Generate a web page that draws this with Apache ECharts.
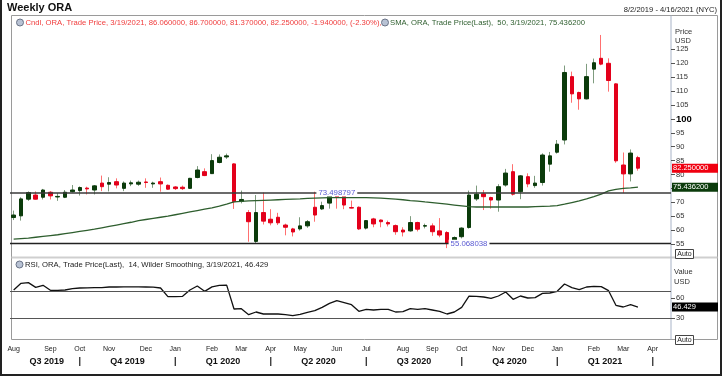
<!DOCTYPE html>
<html>
<head>
<meta charset="utf-8">
<title>Weekly ORA</title>
<script src="https://cdn.jsdelivr.net/npm/echarts@6/dist/echarts.min.js"></script>
<style>
  html, body { margin: 0; padding: 0; background: #fff; }
  #chart { width: 722px; height: 376px; }
</style>
</head>
<body>
<div id="chart"></div>
<script>
// weekly bars, 8/2/2019 .. 3/19/2021 (axis runs to 4/16/2021)
var startDate = '2019-08-02'
var weekCount = 90

var opens = [64.5,65.1,71.1,72.6,71.8,73.6,71.9,71.8,73.8,74.2,
  75.1,74.4,76.9,76.5,77.4,75.0,76.6,76.5,77.3,76.6,
  77.4,76.1,75.5,75.4,75.0,78.9,81.0,80.3,84.3,86.3,
  83.8,70.3,66.3,55.9,66.3,63.9,64.6,61.8,60.4,60.4,
  61.5,68.2,67.6,69.7,72.3,72.3,68.1,68.2,60.7,64.0,
  63.6,62.7,61.6,60.0,59.7,62.7,61.4,61.5,59.7,59.1,
  54.3,57.6,60.9,71.2,73.0,71.7,70.8,76.2,81.0,73.8,
  79.2,76.0,77.1,83.7,88.0,92.4,115.2,109.5,107.2,117.9,
  121.8,120.0,112.6,83.4,80.2,86.06]
var highs = [67.0,71.8,73.9,73.9,74.8,74.0,73.3,74.4,76.2,75.7,
  75.6,76.2,79.6,79.0,78.6,77.5,77.8,77.8,78.6,77.4,
  78.9,76.4,75.8,76.0,78.8,83.0,82.2,87.3,87.2,87.5,
  84.0,74.2,67.2,72.6,73.5,67.5,66.2,62.3,60.8,64.6,
  63.6,73.8,70.2,73.8,72.6,72.6,70.6,68.5,63.6,64.4,
  63.8,63.4,62.0,61.0,65.0,63.0,62.3,62.4,64.3,59.6,
  57.7,61.0,74.2,76.0,74.4,72.0,76.5,82.0,83.7,79.8,
  80.4,79.5,87.6,88.1,92.4,119.2,117.0,109.8,119.8,121.7,
  130.2,121.8,112.8,87.9,89.0,86.70]
var lows = [63.6,63.4,70.5,71.0,71.0,71.0,70.5,71.5,73.5,72.4,
  72.8,72.8,74.0,73.9,75.0,74.0,75.8,75.9,75.2,75.2,
  73.8,74.5,74.4,74.4,74.8,78.6,79.4,80.2,84.0,85.6,
  67.6,69.6,55.8,55.1,62.0,61.7,61.8,58.1,57.7,59.8,
  60.8,63.0,67.2,67.7,67.7,67.5,67.8,60.0,60.2,61.0,
  61.0,61.3,58.3,57.7,59.4,59.5,60.6,57.9,57.4,53.5,
  53.7,57.0,60.5,70.5,67.2,67.7,66.6,75.6,72.4,71.1,
  75.4,75.2,76.0,81.0,87.5,90.8,105.8,103.3,107.0,112.8,
  119.3,109.8,84.2,73.3,77.5,81.37]
var closes = [65.4,71.2,73.5,71.1,74.4,72.3,72.1,73.6,74.4,75.3,
  74.8,75.9,75.6,77.1,76.2,76.9,77.0,77.2,77.1,76.9,
  76.6,74.7,74.9,74.9,78.6,81.6,79.6,85.0,86.2,86.7,
  70.2,71.0,63.0,66.3,63.2,62.6,62.6,61.0,59.3,61.5,
  63.0,65.4,68.8,72.9,71.8,69.0,67.9,60.4,63.4,62.2,
  63.0,62.2,59.4,59.3,62.7,60.3,61.6,59.4,58.2,55.3,
  57.3,60.7,72.6,72.9,72.0,70.8,75.6,80.5,72.9,79.5,
  76.6,76.9,87.0,86.7,90.9,116.7,109.0,107.2,115.2,120.2,
  119.7,113.8,84.9,80.2,87.7,82.25]
var sma50 = [56.7,56.9,57.1,57.4,57.7,58.0,58.3,58.7,59.1,59.5,
  59.9,60.3,60.8,61.3,61.8,62.3,62.8,63.4,63.8,64.2,
  64.6,65.0,65.5,66.0,66.5,67.0,67.5,68.0,68.6,69.3,
  70.1,70.3,70.5,70.6,70.7,70.8,70.9,71.0,71.1,71.2,
  71.4,71.5,71.6,71.7,71.7,71.7,71.7,71.7,71.7,71.6,
  71.5,71.3,71.1,70.9,70.6,70.4,70.1,69.9,69.6,69.3,
  69.0,68.7,68.4,68.3,68.3,68.3,68.3,68.3,68.3,68.3,
  68.3,68.4,68.5,68.6,68.8,69.3,69.9,70.5,71.2,72.0,
  72.9,74.1,74.6,75.0,75.2,75.44]
var rsi14 = [72,82,83,76,79,71.5,71.5,72,74,75,
  75.2,75.7,75.7,76.5,76.5,76.7,76.7,76.7,76.5,76.2,
  75,62,62.2,62.5,72,78,70,76.7,79,79.3,
  43.5,44,35,39,36,36,36,35,33.7,35.5,
  38.5,41,46,52,56,53,50,40,43,42,
  43,43,39,39.5,44,43,44,42,40,36,
  39,46,62.7,62.5,61.5,59.5,63,69,58,63,
  60,60.5,67,67.5,70,81,75.5,72.5,76.5,77.5,
  77,71,49,46.5,50,46.43]

var priceTicks = [55,60,65,70,75,80,85,90,95,100,105,110,115,120,125]
var rsiTicks = [30, 60]
var rsiBands = [70, 30]
var levelHigh = 73.498797
var levelLow = 55.068038
var lastClose = 82.25
var lastSma = 75.4362
var lastRsi = 46.429
var monthNames = ['Jan','Feb','Mar','Apr','May','Jun','Jul','Aug','Sep','Oct','Nov','Dec']
var quarterNames = ['Q3 2019','Q4 2019','Q1 2020','Q2 2020','Q3 2020','Q4 2020','Q1 2021']

var FONT = '"Liberation Sans", Arial, sans-serif'
var UP = '#0b3b0b', DOWN = '#e3001b'
var UP_WICK = '#7f9c7f', DOWN_WICK = '#ff7070'

// week dates for the category axis
var dates = []
var t0 = new Date(startDate + 'T00:00:00Z').getTime()
for (var i = 0; i < weekCount; i++) {
  var d = new Date(t0 + i * 7 * 86400000)
  dates.push((d.getUTCMonth() + 1) + '/' + d.getUTCDate() + '/' + d.getUTCFullYear())
}
function isMonthStart(v) { return +v.split('/')[1] <= 7 }

// quarter captions sit between quarter starts, '|' marks each start
var qStarts = []
dates.forEach(function (v, i) {
  var p = v.split('/')
  if (isMonthStart(v) && (+p[0] - 1) % 3 === 0) qStarts.push(i)
})
var qMarks = {}
var bounds = [0].concat(qStarts)
quarterNames.forEach(function (q, k) { qMarks[(bounds[k] + bounds[k + 1]) / 2] = q })
qStarts.forEach(function (s) { qMarks[s] = '|' })
var qValues = Object.keys(qMarks).map(Number)

var wickData = opens.map(function (o, i) {
  var c = closes[i] >= o ? UP_WICK : DOWN_WICK
  return { value: [lows[i], highs[i], lows[i], highs[i]], itemStyle: { color: c, color0: c, borderColor: c, borderColor0: c } }
})
var bodyData = opens.map(function (o, i) {
  var c = closes[i]
  return [o, c, Math.min(o, c), Math.max(o, c)]
})

function tag(text, bg) {
  return {
    show: true, position: 'end', distance: 1, formatter: text,
    color: '#fff', backgroundColor: bg, fontSize: 7.5, fontFamily: FONT,
    width: 43, padding: [1, 2, 0, 1], lineHeight: 8
  }
}
function levelLabel(text) {
  return {
    show: true, position: 'inside', formatter: text, color: '#5a5ad2',
    fontSize: 7.8, fontFamily: FONT, backgroundColor: '#fff', padding: [0, 2]
  }
}

var chart = echarts.init(document.getElementById('chart'))
chart.setOption({
  animation: false,
  backgroundColor: '#fff',
  grid: [
    { left: 10, right: 51, top: 15.5, height: 241.5, outerBoundsMode: 'none', containLabel: false },
    { left: 10, right: 51, top: 258, height: 81, outerBoundsMode: 'none', containLabel: false }
  ],
  xAxis: [
    { type: 'category', gridIndex: 0, data: dates, boundaryGap: true,
      axisLine: { show: false, onZero: false }, axisTick: { show: false }, axisLabel: { show: false }, splitLine: { show: false } },
    { type: 'category', gridIndex: 1, data: dates, boundaryGap: true,
      axisLine: { show: false, onZero: false }, axisTick: { show: false }, splitLine: { show: false },
      axisLabel: {
        interval: function (idx, v) { return isMonthStart(v) },
        formatter: function (v) { return monthNames[+v.split('/')[0] - 1] },
        fontSize: 7, color: '#222', fontFamily: FONT, margin: 7
      } },
    { type: 'value', gridIndex: 1, min: -0.5, max: weekCount - 0.5, position: 'bottom', offset: 12,
      axisLine: { show: false, onZero: false }, axisTick: { show: false }, splitLine: { show: false },
      axisLabel: {
        customValues: qValues,
        formatter: function (v) { return qMarks[v] || '' },
        fontSize: 9, fontWeight: 'bold', color: '#111', fontFamily: FONT, margin: 6
      } }
  ],
  yAxis: [
    { type: 'value', gridIndex: 0, position: 'right', min: 50.3, max: 137.2,
      axisLine: { show: false, onZero: false }, splitLine: { show: false },
      axisTick: { show: true, inside: false, customValues: priceTicks, length: 4, lineStyle: { color: '#555' } },
      axisLabel: {
        customValues: priceTicks, margin: 5, fontSize: 7.5, color: '#333', fontFamily: FONT,
        formatter: function (v) { return v === 100 ? '{b|100}' : v },
        rich: { b: { fontSize: 9.5, fontWeight: 'bold', color: '#000', fontFamily: FONT } }
      } },
    { type: 'value', gridIndex: 1, position: 'right', min: -1.5, max: 120,
      axisLine: { show: false, onZero: false }, splitLine: { show: false },
      axisTick: { show: true, inside: false, customValues: rsiTicks, length: 4, lineStyle: { color: '#555' } },
      axisLabel: { customValues: rsiTicks, margin: 5, fontSize: 7.5, color: '#333', fontFamily: FONT } }
  ],
  series: [
    { name: 'wick', type: 'candlestick', xAxisIndex: 0, yAxisIndex: 0, barWidth: 1,
      itemStyle: { borderWidth: 1 }, data: wickData, silent: true },
    { name: 'Cndl', type: 'candlestick', xAxisIndex: 0, yAxisIndex: 0, barWidth: 4,
      itemStyle: { color: UP, color0: DOWN, borderColor: UP, borderColor0: DOWN, borderWidth: 1 },
      data: bodyData, silent: true,
      markLine: {
        silent: true, symbol: ['none', 'none'],
        data: [
          { yAxis: levelHigh, lineStyle: { color: '#3a3a3a', width: 1.6, type: 'solid' }, label: { show: false } },
          { yAxis: levelLow, lineStyle: { color: '#222', width: 1.4, type: 'solid' }, label: { show: false } },
          { yAxis: lastClose, lineStyle: { color: 'rgba(0,0,0,0)', width: 0 }, label: tag('82.250000', '#f00010') }
        ]
      },
      markPoint: {
        silent: true, symbolSize: 0,
        data: [
          { coord: [44, levelHigh], label: levelLabel('73.498797') },
          { coord: [62, levelLow], label: levelLabel('55.068038') }
        ]
      } },
    { name: 'SMA', type: 'line', xAxisIndex: 0, yAxisIndex: 0, data: sma50, showSymbol: false,
      lineStyle: { color: '#2e5e2e', width: 1.3 }, silent: true,
      markLine: {
        silent: true, symbol: ['none', 'none'],
        data: [{ yAxis: lastSma, lineStyle: { color: 'rgba(0,0,0,0)', width: 0 }, label: tag('75.436200', '#0b3b0b') }]
      } },
    { name: 'RSI', type: 'line', xAxisIndex: 1, yAxisIndex: 1, data: rsi14, showSymbol: false,
      lineStyle: { color: '#111', width: 1.3 }, silent: true,
      markLine: {
        silent: true, symbol: ['none', 'none'],
        data: rsiBands.map(function (b) {
          return { yAxis: b, lineStyle: { color: '#555', width: 1.2, type: 'solid' }, label: { show: false } }
        }).concat([{ yAxis: lastRsi, lineStyle: { color: 'rgba(0,0,0,0)', width: 0 }, label: tag('46.429', '#000') }])
      } }
  ],
  graphic: [
    { type: 'polyline', silent: true, shape: { points: [[1, 0], [1, 375], [721, 375], [721, 0]] },
      style: { stroke: '#222', lineWidth: 2, fill: null } },
    { type: 'rect', silent: true, shape: { x: 11.5, y: 15.5, width: 706, height: 324 },
      style: { fill: null, stroke: '#9a9a9a', lineWidth: 1 } },
    { type: 'line', silent: true, shape: { x1: 11.5, y1: 257.5, x2: 717.5, y2: 257.5 },
      style: { stroke: '#cfcfcf', lineWidth: 2 } },
    { type: 'line', silent: true, shape: { x1: 671, y1: 15.5, x2: 671, y2: 339.5 },
      style: { stroke: '#a8b3c7', lineWidth: 1 } },
    { type: 'text', silent: true, x: 7, y: 8,
      style: { text: 'Weekly ORA', font: 'bold 11px ' + FONT, fill: '#111', verticalAlign: 'middle' } },
    { type: 'text', silent: true, x: 717, y: 10,
      style: { text: '8/2/2019 - 4/16/2021 (NYC)', font: '7.6px ' + FONT, fill: '#222', align: 'right', verticalAlign: 'middle' } },
    { type: 'circle', silent: true, shape: { cx: 20, cy: 22.5, r: 3.5 },
      style: { fill: '#b8c2d4', stroke: '#6a7387', lineWidth: 1 } },
    { type: 'text', silent: true, x: 25.5, y: 23,
      style: { text: 'Cndl, ORA, Trade Price, 3/19/2021, 86.060000, 86.700000, 81.370000, 82.250000, -1.940000, (-2.30%),',
        font: '7.7px ' + FONT, fill: '#f03c3c', verticalAlign: 'middle' } },
    { type: 'circle', silent: true, shape: { cx: 385, cy: 22.5, r: 3.5 },
      style: { fill: '#b8c2d4', stroke: '#6a7387', lineWidth: 1 } },
    { type: 'text', silent: true, x: 390, y: 23,
      style: { text: 'SMA, ORA, Trade Price(Last),  50, 3/19/2021, 75.436200',
        font: '7.7px ' + FONT, fill: '#2e5e2e', verticalAlign: 'middle' } },
    { type: 'circle', silent: true, shape: { cx: 19.5, cy: 264.5, r: 3.5 },
      style: { fill: '#b8c2d4', stroke: '#6a7387', lineWidth: 1 } },
    { type: 'text', silent: true, x: 25, y: 265,
      style: { text: 'RSI, ORA, Trade Price(Last),  14, Wilder Smoothing, 3/19/2021, 46.429',
        font: '7.7px ' + FONT, fill: '#222', verticalAlign: 'middle' } },
    { type: 'text', silent: true, x: 675, y: 31.7,
      style: { text: 'Price', font: '7.5px ' + FONT, fill: '#333', verticalAlign: 'middle' } },
    { type: 'text', silent: true, x: 675, y: 40.7,
      style: { text: 'USD', font: '7.5px ' + FONT, fill: '#333', verticalAlign: 'middle' } },
    { type: 'text', silent: true, x: 674, y: 272,
      style: { text: 'Value', font: '7.5px ' + FONT, fill: '#333', verticalAlign: 'middle' } },
    { type: 'text', silent: true, x: 674, y: 281.5,
      style: { text: 'USD', font: '7.5px ' + FONT, fill: '#333', verticalAlign: 'middle' } },
    { type: 'rect', silent: true, shape: { x: 675.5, y: 249.5, width: 18, height: 9 },
      style: { fill: '#fff', stroke: '#444', lineWidth: 1 } },
    { type: 'text', silent: true, x: 684.5, y: 254.2,
      style: { text: 'Auto', font: '7px ' + FONT, fill: '#222', align: 'center', verticalAlign: 'middle' } },
    { type: 'rect', silent: true, shape: { x: 675.5, y: 335.5, width: 18, height: 9 },
      style: { fill: '#fff', stroke: '#444', lineWidth: 1 } },
    { type: 'text', silent: true, x: 684.5, y: 340.2,
      style: { text: 'Auto', font: '7px ' + FONT, fill: '#222', align: 'center', verticalAlign: 'middle' } }
  ]
})
</script>
</body>
</html>
